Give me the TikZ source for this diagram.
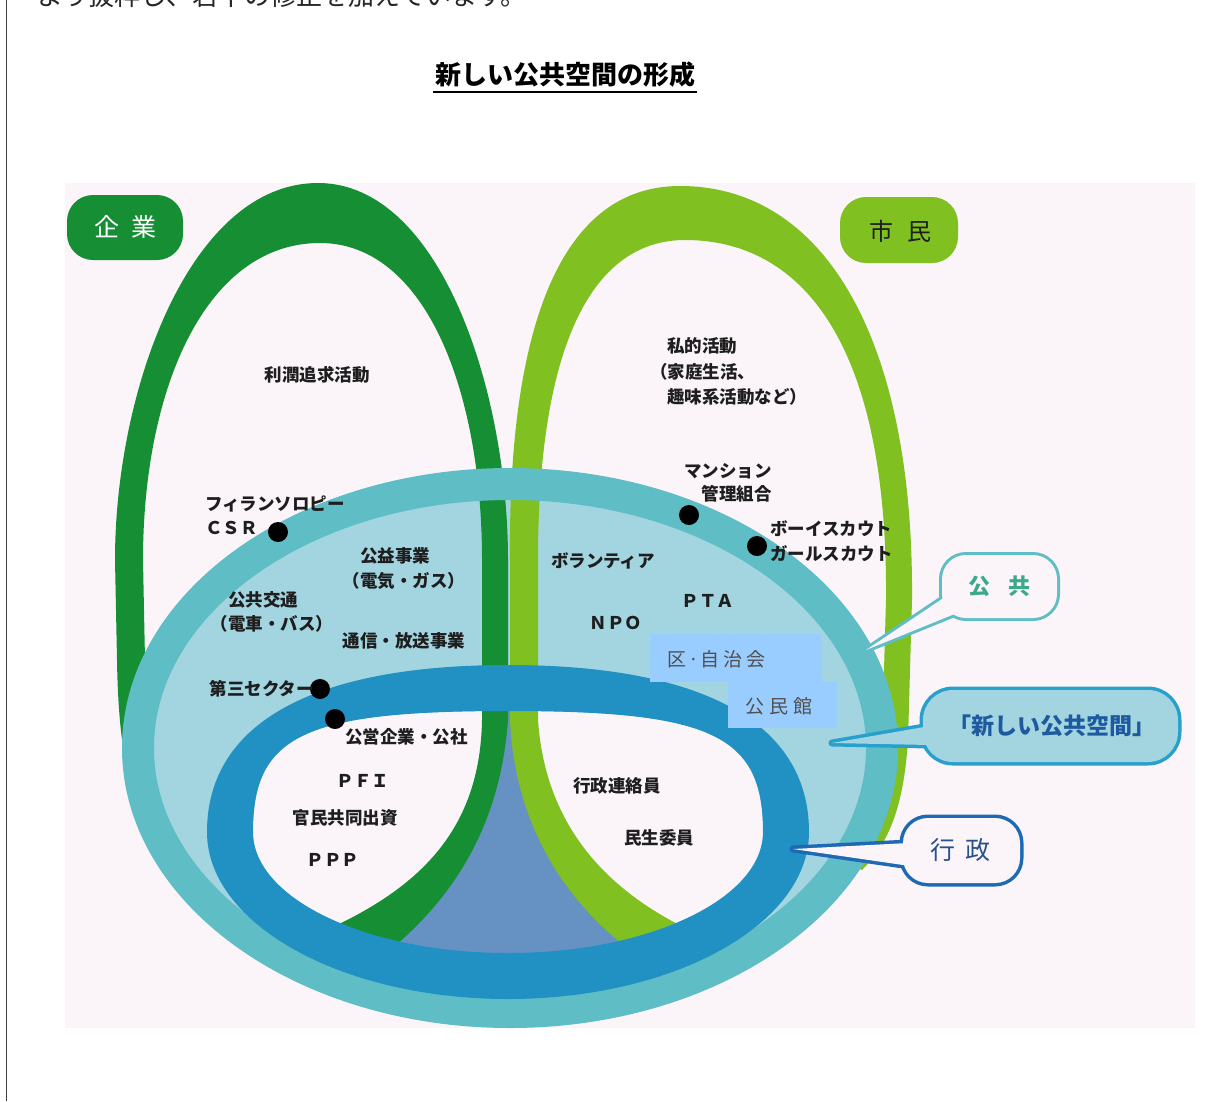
\documentclass[tikz,border=0pt]{standalone}
\usepackage{fontspec}
\newfontfamily\jp{Noto Sans CJK JP}
\usetikzlibrary{calc}
\definecolor{bgpink}{RGB}{251,245,250}
\definecolor{dgreen}{RGB}{22,143,52}
\definecolor{lgreen}{RGB}{128,192,32}
\definecolor{tealr}{RGB}{95,189,197}
\definecolor{lblue}{RGB}{163,213,224}
\definecolor{bluer}{RGB}{33,145,195}
\definecolor{steel}{RGB}{101,146,195}
\definecolor{boxblue}{RGB}{153,204,255}
\definecolor{txtdark}{RGB}{30,30,30}
\definecolor{txtgray}{RGB}{80,80,80}
\definecolor{gongtxt}{RGB}{60,168,140}
\definecolor{newborder}{RGB}{40,160,205}
\definecolor{newtxt}{RGB}{30,90,160}
\definecolor{gyoborder}{RGB}{30,105,180}
\definecolor{gyotxt}{RGB}{40,80,140}
\tikzset{
  lbl/.style={font=\jp\bfseries\fontsize{17.5pt}{21pt}\selectfont, inner sep=0pt, text=txtdark},
  boxtxt/.style={font=\jp\fontsize{19pt}{23pt}\selectfont, inner sep=0pt, text=txtgray},
  blackdot/.style={circle, fill=black, minimum size=20pt, inner sep=0pt},
  pilltxt/.style={inner sep=0pt},
}
\begin{document}
\begin{tikzpicture}[x=1pt,y=-1pt]
\useasboundingbox (0,0) rectangle (1223,1101);
\fill[white] (0,0) rectangle (1223,1101);
\fill[bgpink] (65,183) rectangle (1195,1028);
\draw[black!75, line width=1.5pt] (6.5,0) -- (6.5,1101);

% top (cut) text and title
\node[anchor=base west, font=\jp\fontsize{26pt}{30pt}\selectfont, inner sep=0pt, text=black!85] (intro) at (37,5) {より抜粋し、若干の修正を加えています。};
\node[font=\jp\bfseries\fontsize{26pt}{30pt}\selectfont, inner sep=0pt] (title) at (565,75) {新しい公共空間の形成};
\draw[line width=2.5pt] (433,92) -- (697,92);

% big ellipse interior
\fill[lblue] (510,748) ellipse [x radius=372pt, y radius=264pt];
% inner ellipse interior
\fill[bgpink] (253,832) .. controls (253,735.2) and (304,711) .. (508,711)
  .. controls (712,711) and (763,735.2) .. (763,832)
  .. controls (763,898.8) and (648.8,953) .. (508,953)
  .. controls (367.2,953) and (253,898.8) .. (253,832) -- cycle;
% steel blue overlap
\fill[steel] (495,700) -- (495,720) .. controls (490,830) and (435,895) .. (350,945)
  -- (500,975) -- (665,945) .. controls (585,897) and (530,825) .. (524,720) -- (524,700) -- cycle;

% dark green loop (kigyo)
\fill[dgreen] (135,800) .. controls (124,765) and (118,725) .. (117,660) -- (115,560)
  .. controls (115,390) and (190,183) .. (318,183)
  .. controls (440,183) and (508,390) .. (508,560) -- (508,720)
  .. controls (500,830) and (450,900) .. (390,950) -- (315,935)
  .. controls (420,890) and (480,830) .. (482,720) -- (482,560)
  .. controls (482,390) and (425,243) .. (320,243)
  .. controls (205,243) and (143,390) .. (143,560) -- (145,660)
  .. controls (146,720) and (150,760) .. (158,790) -- cycle;
% light green loop (shimin)
\fill[lgreen] (630,950) .. controls (570,905) and (515,830) .. (510,720) -- (510,560)
  .. controls (508,340) and (555,186) .. (680,186)
  .. controls (825,186) and (914,340) .. (912,600) -- (908,740)
  .. controls (904,800) and (892,840) .. (862,870) -- (830,855)
  .. controls (862,820) and (880,790) .. (882,740) -- (886,600)
  .. controls (888,340) and (800,240) .. (685,240)
  .. controls (590,240) and (538,350) .. (538,560) -- (538,720)
  .. controls (545,820) and (600,890) .. (700,935) -- cycle;

% teal ring (kokyo)
\draw[tealr, line width=32pt] (510,748) ellipse [x radius=372pt, y radius=264pt];
% blue ring (gyosei)
\fill[bluer, even odd rule]
  (207,832) .. controls (207,723.45) and (312.35,665) .. (508,665)
  .. controls (703.65,665) and (809,723.45) .. (809,832)
  .. controls (809,924.2) and (674.2,999) .. (508,999)
  .. controls (341.8,999) and (207,924.2) .. (207,832) -- cycle
  (253,832) .. controls (253,735.2) and (304,711) .. (508,711)
  .. controls (712,711) and (763,735.2) .. (763,832)
  .. controls (763,898.8) and (648.8,953) .. (508,953)
  .. controls (367.2,953) and (253,898.8) .. (253,832) -- cycle;

% blue boxes
\fill[boxblue] (650,634) rectangle (822,682);
\fill[boxblue] (728,682) rectangle (837,728);
\node[boxtxt, anchor=west] (jichi) at (667,659) {区\hspace{2pt}·\hspace{2pt}自\hspace{4pt}治\hspace{4pt}会};
\node[boxtxt, anchor=west] (kominkan) at (745,706) {公\hspace{5pt}民\hspace{5pt}館};

% dots
\node[blackdot] (dcsr) at (278,532) {};
\node[blackdot] (dman) at (689,515) {};
\node[blackdot] (dboy) at (757,546) {};
\node[blackdot] (ddai) at (320,689) {};
\node[blackdot] (dkoei) at (335,719) {};

% texts
\node[lbl] (rijun) at (317,375) {利潤追求活動};
\node[lbl, anchor=west] (shiteki1) at (667,346) {私的活動};
\node[lbl, anchor=west] (shiteki2) at (650,372) {（家庭生活、};
\node[lbl, anchor=west] (shiteki3) at (667,397) {趣味系活動など）};
\node[lbl, anchor=east] (man1) at (772,471) {マンション};
\node[lbl, anchor=east] (man2) at (772,494) {管理組合};
\node[lbl, anchor=west] (boy) at (770,529) {ボーイスカウト};
\node[lbl, anchor=west] (girl) at (770,554) {ガールスカウト};
\node[lbl, anchor=west] (phil) at (205,504) {フィランソロピー};
\node[lbl, anchor=west] (csr) at (205,528) {ＣＳＲ};
\node[lbl] (koeki1) at (395,556) {公益事業};
\node[lbl] (koeki2) at (404,581) {（電気・ガス）};
\node[lbl] (kotsu1) at (263,600) {公共交通};
\node[lbl] (kotsu2) at (272,624) {（電車・バス）};
\node[lbl] (tsushin) at (404,641) {通信・放送事業};
\node[lbl, anchor=east] (daisan) at (314,689) {第三セクター};
\node[lbl, anchor=west] (koei) at (345,737) {公営企業・公社};
\node[lbl] (volun) at (603,561) {ボランティア};
\node[lbl] (pta) at (708,601) {ＰＴＡ};
\node[lbl] (npo) at (616,623) {ＮＰＯ};
\node[lbl] (pfi) at (363,781) {ＰＦＩ};
\node[lbl] (kanmin) at (345,818) {官民共同出資};
\node[lbl] (ppp) at (333,860) {ＰＰＰ};
\node[lbl] (renraku) at (617,786) {行政連絡員};
\node[lbl] (minsei) at (659,838) {民生委員};

% callout: kokyo
\coordinate (gongtip) at (866,650);
\coordinate (gongb1) at (945,597);
\coordinate (gongb2) at (957,613);
\draw[tealr, line width=6pt, rounded corners=24pt] (942,555) rectangle (1057,618);
\draw[tealr, line width=6pt, line join=round] (gongb1) -- (gongtip) -- (gongb2) -- cycle;
\fill[bgpink, rounded corners=24pt] (942,555) rectangle (1057,618);
\fill[bgpink] (gongb1) -- (gongtip) -- (gongb2) -- cycle;
\node[pilltxt, font=\jp\bfseries\fontsize{22pt}{26pt}\selectfont, text=gongtxt] (gong) at (999.5,586.5) {公\hspace{19pt}共};

% callout: atarashii kokyo kukan
\coordinate (newtip) at (832,743);
\coordinate (newb1) at (930,726);
\coordinate (newb2) at (930,745);
\draw[newborder, line width=7pt, rounded corners=30pt] (923,690) rectangle (1178,762);
\draw[newborder, line width=7pt, line join=round] (newb1) -- (newtip) -- (newb2) -- cycle;
\fill[lblue, rounded corners=30pt] (923,690) rectangle (1178,762);
\fill[lblue] (newb1) -- (newtip) -- (newb2) -- cycle;
\node[pilltxt, font=\jp\bfseries\fontsize{23pt}{27pt}\selectfont, text=newtxt] (newk) at (1052,726) {「新しい公共空間」};

% callout: gyosei
\coordinate (gyotip) at (793,849);
\coordinate (gyob1) at (908,843);
\coordinate (gyob2) at (910,866);
\draw[gyoborder, line width=7pt, rounded corners=25pt] (903,818) rectangle (1020,883);
\draw[gyoborder, line width=7pt, line join=round] (gyob1) -- (gyotip) -- (gyob2) -- cycle;
\fill[bgpink, rounded corners=25pt] (903,818) rectangle (1020,883);
\fill[bgpink] (gyob1) -- (gyotip) -- (gyob2) -- cycle;
\node[pilltxt, font=\jp\fontsize{25pt}{29pt}\selectfont, text=gyotxt] (gyo) at (960,850.5) {行\hspace{10pt}政};

% labels kigyo / shimin
\fill[dgreen, rounded corners=26pt] (67,195) rectangle (183,260);
\node[pilltxt, font=\jp\fontsize{25pt}{29pt}\selectfont, text=white] (kigyo) at (125,227) {企\hspace{12pt}業};
\fill[lgreen, rounded corners=26pt] (840,197) rectangle (958,263);
\node[pilltxt, font=\jp\fontsize{24pt}{28pt}\selectfont, text=txtdark] (shimin) at (900,231) {市\hspace{14pt}民};
\end{tikzpicture}
\end{document}
